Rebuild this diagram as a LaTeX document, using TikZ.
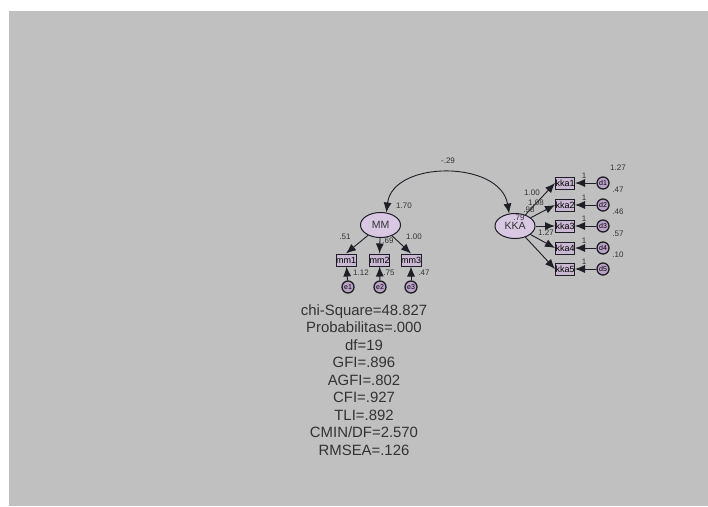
\documentclass[tikz,border=0pt]{standalone}
\usepackage{fontspec}
\setmainfont{Liberation Sans}
\usetikzlibrary{arrows.meta,shapes.geometric}
\definecolor{bg}{HTML}{C0C0C0}
\definecolor{latfill}{HTML}{D8C8E2}
\definecolor{obsfill}{HTML}{C9B9D2}
\definecolor{errfill}{HTML}{B9A3C8}
\definecolor{ink}{HTML}{1E1E26}
\definecolor{txt}{HTML}{333333}
\tikzset{
  latent/.style={ellipse,draw=ink,fill=latfill,line width=1pt,minimum width=40pt,minimum height=25pt,inner sep=0pt,font=\fontsize{10.5}{12}\selectfont,text=txt},
  obs/.style={rectangle,draw=ink,fill=obsfill,line width=1pt,minimum width=19pt,minimum height=12pt,inner sep=0pt,font=\fontsize{9}{10}\selectfont,text=black},
  err/.style={circle,draw=ink,fill=errfill,line width=1.3pt,minimum size=12pt,inner sep=0pt,font=\fontsize{7}{8}\selectfont,text=black},
  path/.style={-{Latex[length=10pt,width=8pt]},line width=0.9pt,draw=ink},
  cov/.style={{Latex[length=10pt,width=8pt]}-{Latex[length=10pt,width=8pt]},line width=0.9pt,draw=ink},
  lbl/.style={font=\fontsize{8}{9}\selectfont,text=txt,inner sep=0pt},
  fit/.style={font=\fontsize{14.9}{17.5}\selectfont,text=txt,align=center,inner sep=0pt}
}
\begin{document}
\begin{tikzpicture}[x=1pt,y=-1pt]
\useasboundingbox (0,0) rectangle (708,506);
\fill[white] (0,0) rectangle (708,506);
\fill[bg] (9,11) rectangle (708,506);

% MM part
\node[latent] (MM) at (380.5,225) {MM};
\node[obs] (mm1) at (346,260) {mm1};
\node[obs] (mm2) at (379.5,260) {mm2};
\node[obs] (mm3) at (411,260) {mm3};
\node[err] (e1) at (348,287) {e1};
\node[err] (e2) at (380,287) {e2};
\node[err] (e3) at (411,287) {e3};
\draw[path] (MM) -- (mm1.north);
\draw[path] (MM) -- (mm2.north);
\draw[path] (MM) -- (mm3.north);
\draw[path] (e1) -- (mm1);
\draw[path] (e2) -- (mm2);
\draw[path] (e3) -- (mm3);
\node[lbl] (l1) at (404,206) {1.70};
\node[lbl] (l2) at (345,237) {.51};
\node[lbl] (l3) at (388,241) {.69};
\node[lbl] (l4) at (414,237) {1.00};
\node[lbl] (l5) at (361,273) {1.12};
\node[lbl] (l6) at (389,273) {.75};
\node[lbl] (l7) at (424,273) {.47};

% KKA part
\node[latent] (KKA) at (515,226) {KKA};
\foreach \i/\y in {1/183,2/205,3/226,4/248,5/269}{
  \node[obs] (kka\i) at (565,\y) {kka\i};
  \node[err] (d\i) at (603,\y) {d\i};
  \draw[path] (KKA) -- (kka\i.west);
  \draw[path] (d\i) -- (kka\i);
  \node[lbl] (one\i) at (584,\y-7) {1};
}
\node[lbl] (v1) at (618,168) {1.27};
\node[lbl] (v2) at (618,190) {.47};
\node[lbl] (v3) at (618,212) {.46};
\node[lbl] (v4) at (618,234) {.57};
\node[lbl] (v5) at (618,255) {.10};
\node[lbl] (k1) at (532,193) {1.00};
\node[lbl] (k2) at (536,203) {1.08};
\node[lbl] (k2b) at (529,210) {.98};
\node[lbl] (k3) at (519,218) {.79};
\node[lbl] (k4) at (546,233) {1.27};

% covariance
\draw[cov] (MM.65) .. controls (393,160) and (500,160) .. (KKA.115);
\node[lbl] (c) at (448,161) {-.29};

% fit indices
\node[fit] (fitbox) at (364,380) {chi-Square=48.827\\Probabilitas=.000\\df=19\\GFI=.896\\AGFI=.802\\CFI=.927\\TLI=.892\\CMIN/DF=2.570\\RMSEA=.126};
\end{tikzpicture}
\end{document}
